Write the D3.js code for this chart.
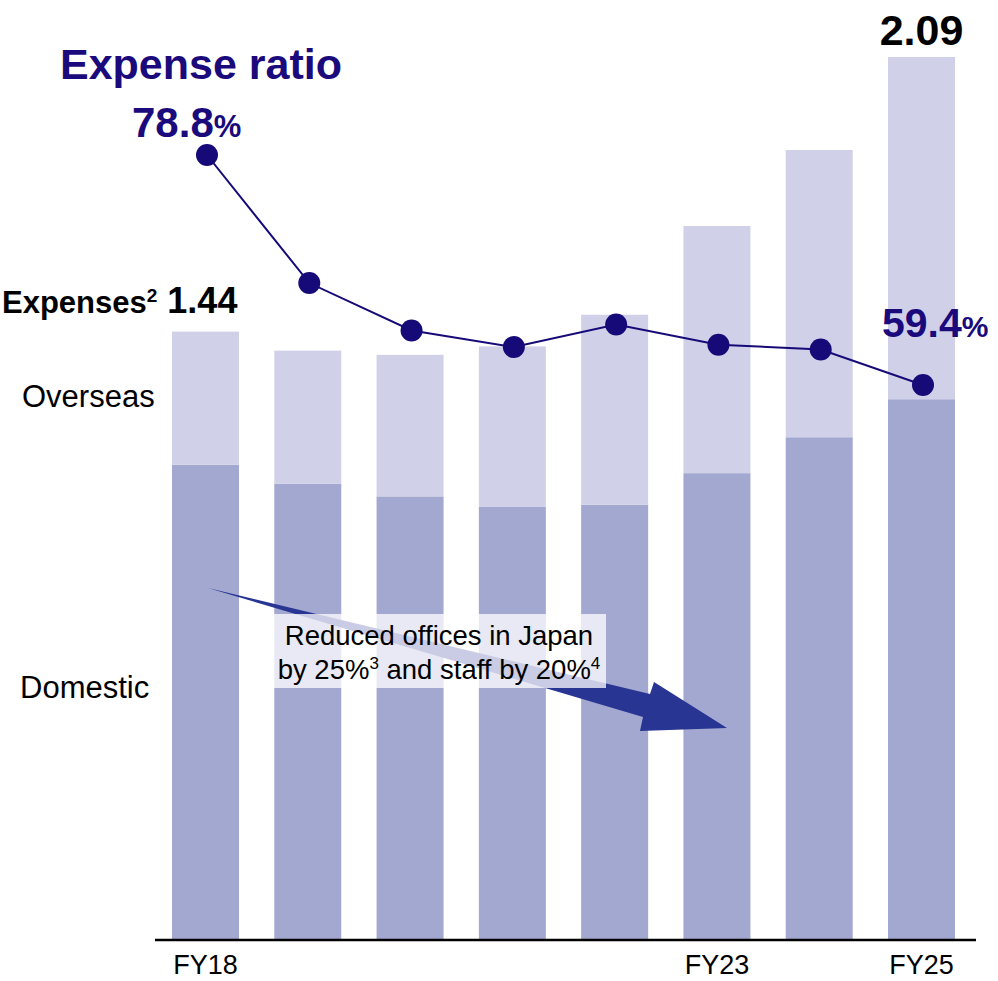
<!DOCTYPE html>
<html>
<head>
<meta charset="utf-8">
<script src="https://cdn.jsdelivr.net/npm/d3@7"></script>
<style>
  body { margin: 0; background: #fff; }
  text { font-family: "Liberation Sans", Arial, sans-serif; }
</style>
</head>
<body>
<div id="chart"></div>
<script>
var width = 998,
    height = 981;

var years = ["FY18", "FY19", "FY20", "FY21", "FY22", "FY23", "FY24", "FY25"];
var tickLabels = ["FY18", "FY23", "FY25"];
var domestic = [1.125, 1.08, 1.05, 1.025, 1.03, 1.105, 1.19, 1.28];
var overseas = [0.315, 0.315, 0.335, 0.38, 0.45, 0.585, 0.68, 0.81];
var expenseRatio = [78.8, 68.0, 64.0, 62.6, 64.5, 62.8, 62.4, 59.4];

var svg = d3.select("#chart")
    .append("svg")
    .attr("width", width)
    .attr("height", height);

var x = d3.scaleBand()
    .domain(years)
    .range([172, 955])
    .paddingInner(0.345)
    .paddingOuter(0);

var y = d3.scaleLinear()
    .domain([0, 2.09])
    .range([940, 57]);

var yRatio = d3.scaleLinear()
    .domain([59.4, 78.8])
    .range([385, 155]);

var stackData = years.map(function(d, i) {
    return {year: d, domestic: domestic[i], overseas: overseas[i]};
});
var stack = d3.stack().keys(["domestic", "overseas"])(stackData);
var colors = {domestic: "#a3a8d1", overseas: "#d0d1e8"};

svg.selectAll(".layer")
    .data(stack)
    .enter().append("g")
    .attr("fill", function(d) { return colors[d.key]; })
    .selectAll("rect")
    .data(function(d) { return d; })
    .enter().append("rect")
    .attr("x", function(d) { return x(d.data.year); })
    .attr("width", x.bandwidth())
    .attr("y", function(d) { return y(d[1]); })
    .attr("height", function(d) { return y(d[0]) - y(d[1]); });

// axis
var xAxis = svg.append("g")
    .attr("transform", "translate(0,940)")
    .call(d3.axisBottom(x).tickSize(0).tickValues(tickLabels));
xAxis.select(".domain").remove();
xAxis.append("line")
    .attr("x1", 155).attr("x2", 976)
    .attr("y1", 0).attr("y2", 0)
    .attr("stroke", "#000").attr("stroke-width", 2.5);
xAxis.selectAll(".tick text")
    .attr("dy", 0)
    .attr("y", 34)
    .attr("font-size", "27px")
    .attr("font-family", "Liberation Sans, Arial, sans-serif")
    .attr("fill", "#000");

// arrow annotation
var arrow = d3.path();
arrow.moveTo(208, 588);
arrow.lineTo(650, 694);
arrow.lineTo(654, 682);
arrow.lineTo(727, 728);
arrow.lineTo(640, 731);
arrow.lineTo(643, 717);
arrow.closePath();
svg.append("path")
    .attr("d", arrow.toString())
    .attr("fill", "#283593");

svg.append("rect")
    .attr("x", 272).attr("y", 614)
    .attr("width", 334).attr("height", 74)
    .attr("fill", "#fff").attr("fill-opacity", 0.75);

var note = svg.append("text")
    .attr("text-anchor", "middle")
    .attr("font-size", "27.5px")
    .attr("fill", "#000");
note.append("tspan").attr("x", 439).attr("y", 645).text("Reduced offices in Japan");
var l2 = note.append("tspan").attr("x", 439).attr("y", 679);
l2.append("tspan").text("by 25%");
l2.append("tspan").attr("font-size", "17px").attr("dy", -10).text("3");
l2.append("tspan").attr("dy", 10).text(" and staff by 20%");
l2.append("tspan").attr("font-size", "17px").attr("dy", -10).text("4");

// expense ratio line
var line = d3.line()
    .x(function(d, i) { return x(years[i]) + x.bandwidth() / 2 + 1.5; })
    .y(function(d) { return yRatio(d); });

svg.append("path")
    .datum(expenseRatio)
    .attr("d", line)
    .attr("fill", "none")
    .attr("stroke", "#160a78")
    .attr("stroke-width", 2);

svg.selectAll(".dot")
    .data(expenseRatio)
    .enter().append("circle")
    .attr("cx", function(d, i) { return x(years[i]) + x.bandwidth() / 2 + 1.5; })
    .attr("cy", function(d) { return yRatio(d); })
    .attr("r", 11)
    .attr("fill", "#160a78");

// labels
var navy = "#1b0a7c";
svg.append("text")
    .attr("x", 60).attr("y", 79)
    .attr("font-size", "43px").attr("font-weight", "bold")
    .attr("fill", navy)
    .text("Expense ratio");

var firstR = svg.append("text")
    .attr("x", 132).attr("y", 137)
    .attr("font-size", "42px").attr("font-weight", "bold")
    .attr("fill", navy);
firstR.append("tspan").text(d3.format(".1f")(expenseRatio[0]));
firstR.append("tspan").attr("font-size", "31px").text("%");

var lastR = svg.append("text")
    .attr("x", 882).attr("y", 337)
    .attr("font-size", "41px").attr("font-weight", "bold")
    .attr("fill", navy);
lastR.append("tspan").text(d3.format(".1f")(expenseRatio[7]));
lastR.append("tspan").attr("font-size", "30px").text("%");

var exp = svg.append("text")
    .attr("x", 2).attr("y", 313)
    .attr("font-weight", "bold").attr("fill", "#000");
exp.append("tspan").attr("font-size", "31px").text("Expenses");
exp.append("tspan").attr("font-size", "19px").attr("dy", -11).text("2");
exp.append("tspan").attr("font-size", "36px").attr("dy", 11).text(" " + d3.format(".2f")(domestic[0] + overseas[0]));

svg.append("text")
    .attr("x", x("FY25") + x.bandwidth() / 2).attr("y", 45)
    .attr("text-anchor", "middle")
    .attr("font-size", "43px").attr("font-weight", "bold")
    .attr("fill", "#000")
    .text(d3.format(".2f")(domestic[7] + overseas[7]));

svg.append("text")
    .attr("x", 22).attr("y", 407)
    .attr("font-size", "31px").attr("fill", "#000")
    .text("Overseas");

svg.append("text")
    .attr("x", 20).attr("y", 698)
    .attr("font-size", "31px").attr("fill", "#000")
    .text("Domestic");
</script>
</body>
</html>
